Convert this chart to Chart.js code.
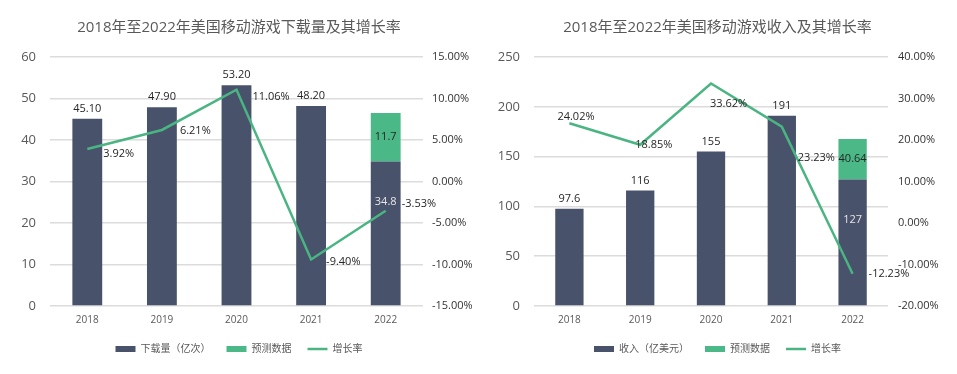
<!DOCTYPE html>
<html>
<head>
<meta charset="utf-8">
<script src="https://cdn.jsdelivr.net/npm/chart.js@4.4.0/dist/chart.umd.min.js"></script>
<style>
  body { margin: 0; background: #fff; }
  .wrap { display: flex; }
  canvas { display: block; }
</style>
</head>
<body>
<div class="wrap">
  <canvas id="dlChart" width="478" height="374"></canvas>
  <canvas id="revChart" width="479" height="374"></canvas>
</div>
<script>
const years = ['2018', '2019', '2020', '2021', '2022'];

// 下载量（亿次）
const downloads = [45.10, 47.90, 53.20, 48.20, 34.8];
const downloadsForecast = [null, null, null, null, 11.7];
const downloadsGrowth = [3.92, 6.21, 11.06, -9.40, -3.53];

// 收入（亿美元）
const revenue = [97.6, 116, 155, 191, 127];
const revenueForecast = [null, null, null, null, 40.64];
const revenueGrowth = [24.02, 18.85, 33.62, 23.23, -12.23];

const BAR = '#48526a';
const GREEN = '#4bb887';
const LINE = '#4ab582';
const FONT = '"Open Sans", "Noto Sans CJK SC", sans-serif';

// label nudges for the growth-rate labels, relative to each point
const dlGrowthOffsets = [[16, 5], [18, 1], [16, 7], [15, 2], [16, -7]];
const revGrowthOffsets = [[-12, -6], [-5, 0], [-1, 20], [16, 31], [16, 0]];

const valueLabels = {
  id: 'valueLabels',
  afterDatasetsDraw(chart, args, opts) {
    const ctx = chart.ctx;
    const base = chart.getDatasetMeta(0);
    const extra = chart.getDatasetMeta(1);
    const line = chart.getDatasetMeta(2);
    ctx.save();
    ctx.font = '11px ' + FONT;
    ctx.textBaseline = 'middle';

    base.data.forEach((bar, i) => {
      const v = chart.data.datasets[0].data[i];
      ctx.textAlign = 'center';
      if (chart.data.datasets[1].data[i] == null) {
        ctx.fillStyle = '#262626';
        ctx.fillText(opts.fmt(v), bar.x, bar.y - 10);
      } else {
        ctx.fillStyle = '#e6e6e6';
        ctx.fillText(String(v), bar.x, bar.y + 40);
      }
    });

    extra.data.forEach((bar, i) => {
      const v = chart.data.datasets[1].data[i];
      if (v == null) return;
      ctx.fillStyle = '#262626';
      ctx.textAlign = 'center';
      ctx.fillText(String(v), bar.x, (bar.y + bar.base) / 2);
    });

    line.data.forEach((pt, i) => {
      const v = chart.data.datasets[2].data[i];
      const off = opts.offsets[i];
      ctx.fillStyle = '#262626';
      ctx.textAlign = 'left';
      ctx.fillText(v.toFixed(2) + '%', pt.x + off[0], pt.y + off[1]);
    });
    ctx.restore();
  }
};

function makeChart(id, opt) {
  const ctx = document.getElementById(id);
  return new Chart(ctx, {
    type: 'bar',
    data: {
      labels: years,
      datasets: [
        {
          label: opt.barLabel,
          data: opt.bars,
          backgroundColor: BAR,
          yAxisID: 'y',
          order: 2,
          barPercentage: 0.4,
          categoryPercentage: 1
        },
        {
          label: '预测数据',
          data: opt.forecast,
          backgroundColor: GREEN,
          yAxisID: 'y',
          order: 2,
          barPercentage: 0.4,
          categoryPercentage: 1
        },
        {
          type: 'line',
          label: '增长率',
          data: opt.growth,
          borderColor: LINE,
          backgroundColor: LINE,
          borderWidth: 2.5,
          pointRadius: 0,
          tension: 0,
          yAxisID: 'y1',
          order: 1
        }
      ]
    },
    plugins: [valueLabels],
    options: {
      responsive: false,
      animation: false,
      layout: { padding: { bottom: 10 } },
      scales: {
        x: {
          stacked: true,
          grid: { display: false, drawTicks: false },
          border: { display: false },
          ticks: { color: '#595959', font: { family: FONT, size: 10 }, padding: 8 },
          afterFit: (s) => { s.height = 22; }
        },
        y: {
          stacked: true,
          position: 'left',
          min: 0,
          max: opt.yMax,
          ticks: { stepSize: opt.yStep, color: '#595959', font: { family: FONT, size: 13 }, padding: 14 },
          grid: { color: '#dcdcdc', lineWidth: 1.5, drawTicks: false },
          border: { display: false },
          afterFit: (s) => { s.width = opt.leftW; }
        },
        y1: {
          position: 'right',
          min: opt.rMin,
          max: opt.rMax,
          ticks: {
            stepSize: opt.rStep,
            color: '#333333',
            font: { family: FONT, size: 11 },
            padding: opt.rPad,
            callback: (v) => v.toFixed(2) + '%'
          },
          grid: { display: false, drawTicks: false },
          border: { display: false },
          afterFit: (s) => { s.width = opt.rightW; }
        }
      },
      plugins: {
        title: {
          display: true,
          text: opt.title,
          color: '#595959',
          font: { family: FONT, size: 15, weight: 'normal' },
          padding: { top: 19, bottom: 20 }
        },
        legend: {
          position: 'bottom',
          labels: {
            usePointStyle: true,
            pointStyleWidth: 20,
            boxHeight: 6,
            padding: 16,
            color: '#595959',
            font: { family: FONT, size: 10 },
            generateLabels: (chart) => {
              const items = Chart.defaults.plugins.legend.labels.generateLabels(chart);
              items.sort((a, b) => a.datasetIndex - b.datasetIndex);
              items.forEach((it) => {
                it.pointStyle = it.datasetIndex === 2 ? 'line' : 'rect';
                if (it.datasetIndex === 2) it.lineWidth = 2.5;
              });
              return items;
            }
          }
        },
        tooltip: { enabled: false },
        valueLabels: opt.labels
      }
    }
  });
}

makeChart('dlChart', {
  title: '2018年至2022年美国移动游戏下载量及其增长率',
  barLabel: '下载量（亿次）',
  bars: downloads,
  forecast: downloadsForecast,
  growth: downloadsGrowth,
  yMax: 60, yStep: 10,
  rMin: -15, rMax: 15, rStep: 5,
  leftW: 50, rightW: 55, rPad: 9,
  labels: { fmt: (v) => v.toFixed(2), offsets: dlGrowthOffsets }
});

makeChart('revChart', {
  title: '2018年至2022年美国移动游戏收入及其增长率',
  barLabel: '收入（亿美元）',
  bars: revenue,
  forecast: revenueForecast,
  growth: revenueGrowth,
  yMax: 250, yStep: 50,
  rMin: -20, rMax: 40, rStep: 10,
  leftW: 56, rightW: 69, rPad: 10,
  labels: { fmt: (v) => String(v), offsets: revGrowthOffsets }
});
</script>
</body>
</html>
